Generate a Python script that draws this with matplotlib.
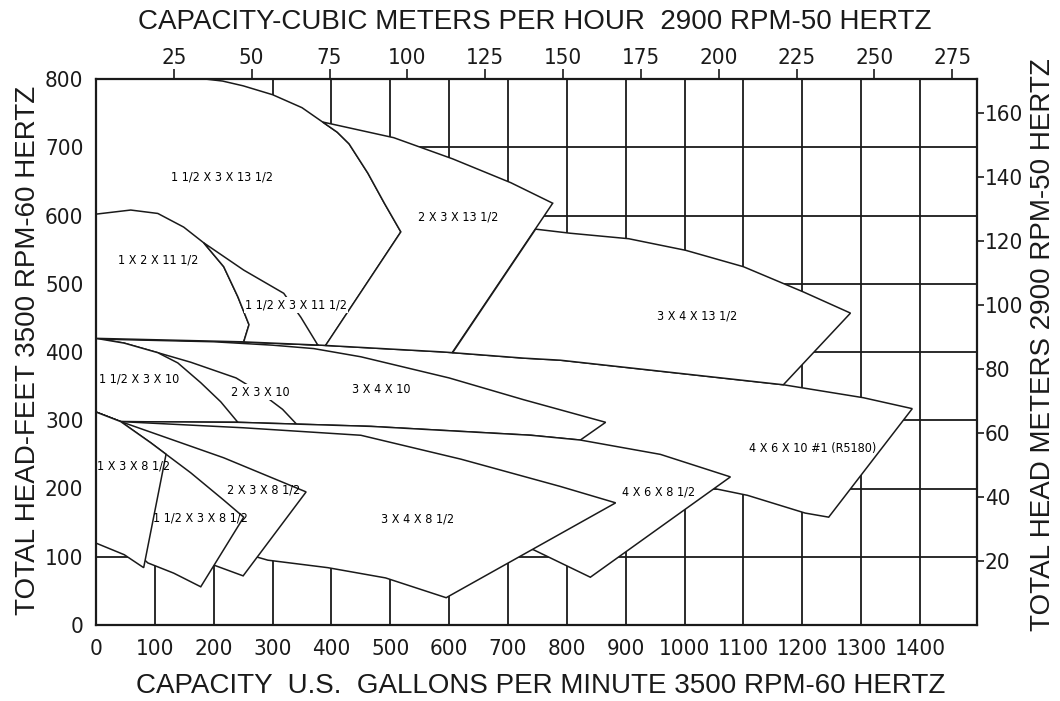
import matplotlib
matplotlib.use("Agg")
import matplotlib.pyplot as plt
from matplotlib.patches import Polygon
from matplotlib.font_manager import FontProperties
import numpy as np

# ---------------- data: capacity (US GPM, 3500 rpm) / head (ft) ----------------
# shared upper boundary of the 10" family (top of 4 X 6 X 10)
line400_q = [0, 246, 382, 591, 727, 789, 1168, 1304, 1387]
line400_h = [420, 415, 410, 400, 391, 388, 352, 333, 317]

# 1 1/2 X 3 X 13 1/2 head curve
head13_q = [0, 185, 215, 250, 300, 350, 385, 410, 430, 462, 490, 518]
head13_h = [800, 800, 797, 790, 777, 758, 737, 722, 705, 662, 618, 576]
corner13_q, corner13_h = 390, 409

# 2 X 3 X 13 1/2 top edge and lower corner
top2x3x13_q = [385, 506, 606, 705, 776]
top2x3x13_h = [737, 714, 683, 648, 618]
corner2x3x13_q, corner2x3x13_h = 606, 400

# 3 X 4 X 13 1/2 top edge and lower corner
top3x4x13_q = [747, 806, 905, 1002, 1100, 1202, 1282]
top3x4x13_h = [580, 574, 566, 549, 525, 488, 457]
corner3x4x13_q, corner3x4x13_h = 1168, 352

# 1 X 2 X 11 1/2 head curve
head1x2_q = [0, 59, 105, 149, 183, 217, 241, 260, 251]
head1x2_h = [602, 608, 603, 583, 560, 525, 481, 440, 415]

# 1 1/2 X 3 X 11 1/2 head curve
head15x3x11_q = [183, 251, 319, 348, 377]
head15x3x11_h = [560, 520, 486, 451, 410]

# lower boundary of 10" family / top of 4 X 6 X 8 1/2
line300_q = [0, 42, 240, 467, 739, 823, 959, 1078]
line300_h = [312, 298, 297, 291, 278, 271, 250, 217]

# 4 X 6 X 10 #1 right and bottom edges
edge4x6x10_q = [1245, 1205, 1107, 1056, 900, 500, 0]
edge4x6x10_h = [158, 164, 190, 199, 225, 270, 290]

# 3 X 4 X 10 head curve and lower corner
head3x4x10_q = [0, 200, 300, 370, 450, 600, 727, 866]
head3x4x10_h = [419, 415, 410, 405, 393, 362, 330, 297]
corner3x4x10_q = 823

# 1 1/2 X 3 X 10 and 2 X 3 X 10 head curves
head15x3x10_q = [0, 48, 105, 139, 178, 212, 241]
head15x3x10_h = [420, 413, 399, 384, 355, 327, 297]
head2x3x10_q = [105, 161, 238, 280, 317, 340]
head2x3x10_h = [399, 385, 362, 340, 316, 295]

# 8 1/2 family
head8_q = [0, 42, 93, 161, 217, 251]
head8_h = [312, 298, 267, 223, 183, 158]
edge1x3x8_q = [119, 81, 48, 0]
edge1x3x8_h = [250, 84, 103, 120]
edge15x3x8_q = [178, 132, 88, 40, 0]
edge15x3x8_h = [56, 76, 91, 130, 150]
top2x3x8_q = [42, 217, 357]
top2x3x8_h = [298, 245, 195]
edge2x3x8_q = [250, 209, 130]
edge2x3x8_h = [72, 85, 110]
top3x4x8_q = [42, 250, 450, 620, 789, 883]
top3x4x8_h = [298, 289, 278, 243, 203, 179]
edge3x4x8_q = [595, 492, 394, 292, 150]
edge3x4x8_h = [40, 69, 84, 95, 130]
edge4x6x8_q = [840, 744, 600, 100, 0]
edge4x6x8_h = [70, 110, 150, 250, 280]

labels = ["1 1/2 X 3 X 13 1/2", "2 X 3 X 13 1/2", "1 X 2 X 11 1/2",
          "1 1/2 X 3 X 11 1/2", "3 X 4 X 13 1/2", "1 1/2 X 3 X 10",
          "2 X 3 X 10", "3 X 4 X 10", "4 X 6 X 10 #1 (R5180)",
          "1 X 3 X 8 1/2", "1 1/2 X 3 X 8 1/2", "2 X 3 X 8 1/2",
          "3 X 4 X 8 1/2", "4 X 6 X 8 1/2"]
label_q = [214, 615, 105, 340, 1022, 73, 280, 484, 1217, 63, 178, 285, 546, 956]
label_h = [656, 598, 535, 469, 453, 360, 341, 345, 259, 233, 157, 198, 155, 195]
label_gap = [False, False, False, True, False, False, True, False, False,
             False, False, False, False, False]

gpm_ticks = list(range(0, 1500, 100))
ft_ticks = list(range(0, 900, 100))
m3h_ticks = list(range(25, 300, 25))
m_ticks = list(range(20, 180, 20))
GPM_TO_M3H = 0.189   # 2900 rpm cubic metres per hour per 3500 rpm GPM
FT_TO_M = 0.2133     # 2900 rpm metres per 3500 rpm foot


# ---------------- helpers ----------------
def pts(q, h):
    return list(zip(q, h))


def piece(q, h, a, b):
    q = np.asarray(q, float)
    h = np.asarray(h, float)
    lo, hi = min(a, b), max(a, b)
    inner = (q > lo) & (q < hi)
    qs = np.concatenate([[lo], q[inner], [hi]])
    hs = np.interp(qs, q, h)
    if a > b:
        qs, hs = qs[::-1], hs[::-1]
    return list(zip(qs, hs))


polys = []
# 10" family (back to front)
polys.append(piece(line400_q, line400_h, 0, 1387) + pts(edge4x6x10_q, edge4x6x10_h))
polys.append(pts(head3x4x10_q, head3x4x10_h)
             + piece(line300_q, line300_h, corner3x4x10_q, 0))
polys.append(piece(head15x3x10_q, head15x3x10_h, 0, 105) + pts(head2x3x10_q[1:], head2x3x10_h[1:])
             + piece(line300_q, line300_h, head2x3x10_q[-1], 0))
polys.append(pts(head15x3x10_q, head15x3x10_h)
             + piece(line300_q, line300_h, head15x3x10_q[-1], 0))
# 8 1/2 family
polys.append(piece(line300_q, line300_h, 0, 1078) + pts(edge4x6x8_q, edge4x6x8_h))
polys.append(pts(top3x4x8_q, top3x4x8_h) + pts(edge3x4x8_q, edge3x4x8_h))
polys.append(pts(top2x3x8_q, top2x3x8_h) + pts(edge2x3x8_q, edge2x3x8_h))
polys.append(pts(head8_q, head8_h) + pts(edge15x3x8_q, edge15x3x8_h))
polys.append(piece(head8_q, head8_h, 0, 119) + pts(edge1x3x8_q, edge1x3x8_h))
# 13 1/2 and 11 1/2 families
polys.append(pts(head13_q, head13_h) + [(corner13_q, corner13_h)]
             + piece(line400_q, line400_h, corner13_q, 0))
polys.append(pts(top2x3x13_q, top2x3x13_h) + [(corner2x3x13_q, corner2x3x13_h)]
             + piece(line400_q, line400_h, corner2x3x13_q, corner13_q)
             + piece(head13_q, head13_h, 518, 385))
polys.append(pts(top3x4x13_q, top3x4x13_h) + [(corner3x4x13_q, corner3x4x13_h)]
             + piece(line400_q, line400_h, corner3x4x13_q, corner2x3x13_q))
polys.append(pts(head1x2_q, head1x2_h) + piece(line400_q, line400_h, 251, 0))
polys.append(pts(head15x3x11_q, head15x3x11_h)
             + piece(line400_q, line400_h, 377, 251)
             + pts(head1x2_q[-2:3:-1], head1x2_h[-2:3:-1]))

# ---------------- figure ----------------
SANS = ["Liberation Sans", "DejaVu Sans"]
INK = "#1a1a1a"
COND = FontProperties(family="DejaVu Sans", stretch="condensed", size=16)
COND_SMALL = FontProperties(family="DejaVu Sans", stretch="condensed", size=9)

fig = plt.figure(figsize=(10.6, 7.01), dpi=100)
ax = fig.add_axes([96 / 1060, 1 - 625 / 701, 881 / 1060, 546 / 701])
ax.set_xlim(0, 1497)
ax.set_ylim(0, 800)

for q in gpm_ticks[1:]:
    ax.axvline(q, color=INK, lw=1.3, zorder=0.5)
for h in ft_ticks[1:-1]:
    ax.axhline(h, color=INK, lw=1.3, zorder=0.5)

for i, p in enumerate(polys):
    ax.add_patch(Polygon(p, closed=True, facecolor="white", edgecolor=INK,
                         lw=1.1, joinstyle="miter", zorder=2 + i * 0.01))

for t, q, h, gap in zip(labels, label_q, label_h, label_gap):
    kw = {}
    if gap:
        kw["bbox"] = dict(facecolor="white", edgecolor="none", pad=1.0)
    ax.text(q, h, t, ha="center", va="center", fontproperties=COND_SMALL,
            color="black", zorder=5, **kw)

for s in ax.spines.values():
    s.set_linewidth(1.6)
    s.set_color(INK)
    s.set_zorder(6)

ax.set_xticks(gpm_ticks)
ax.set_yticks(ft_ticks)
ax.tick_params(axis="both", length=0, colors=INK)
ax.tick_params(axis="x", pad=10)
ax.tick_params(axis="y", pad=9)
for lab in ax.get_xticklabels() + ax.get_yticklabels():
    lab.set_fontproperties(COND)

top = ax.secondary_xaxis("top", functions=(lambda x: x * GPM_TO_M3H, lambda x: x / GPM_TO_M3H))
top.set_xticks(m3h_ticks)
top.tick_params(length=7, width=1.2, pad=1, colors=INK)
top.spines["top"].set_visible(False)
for lab in top.get_xticklabels():
    lab.set_fontproperties(COND)

right = ax.secondary_yaxis("right", functions=(lambda y: y * FT_TO_M, lambda y: y / FT_TO_M))
right.set_yticks(m_ticks)
right.tick_params(length=5, width=1.2, pad=0.5, colors=INK)
right.spines["right"].set_visible(False)
for lab in right.get_yticklabels():
    lab.set_fontproperties(COND)

fig.text(535 / 1060, 1 - 22 / 701, "CAPACITY-CUBIC METERS PER HOUR  2900 RPM-50 HERTZ",
         ha="center", va="center", fontsize=20, family=SANS, color=INK)
fig.text(541 / 1060, 1 - 686 / 701, "CAPACITY  U.S.  GALLONS PER MINUTE 3500 RPM-60 HERTZ",
         ha="center", va="center", fontsize=20, family=SANS, color=INK)
fig.text(28 / 1060, 1 - 350 / 701, "TOTAL HEAD-FEET 3500 RPM-60 HERTZ", rotation=90,
         ha="center", va="center", fontsize=20, family=SANS, color=INK)
fig.text(1043 / 1060, 1 - 345 / 701, "TOTAL HEAD METERS 2900 RPM-50 HERTZ", rotation=90,
         ha="center", va="center", fontsize=20, family=SANS, color=INK)

fig.savefig("out.png", dpi=100, facecolor="white")
